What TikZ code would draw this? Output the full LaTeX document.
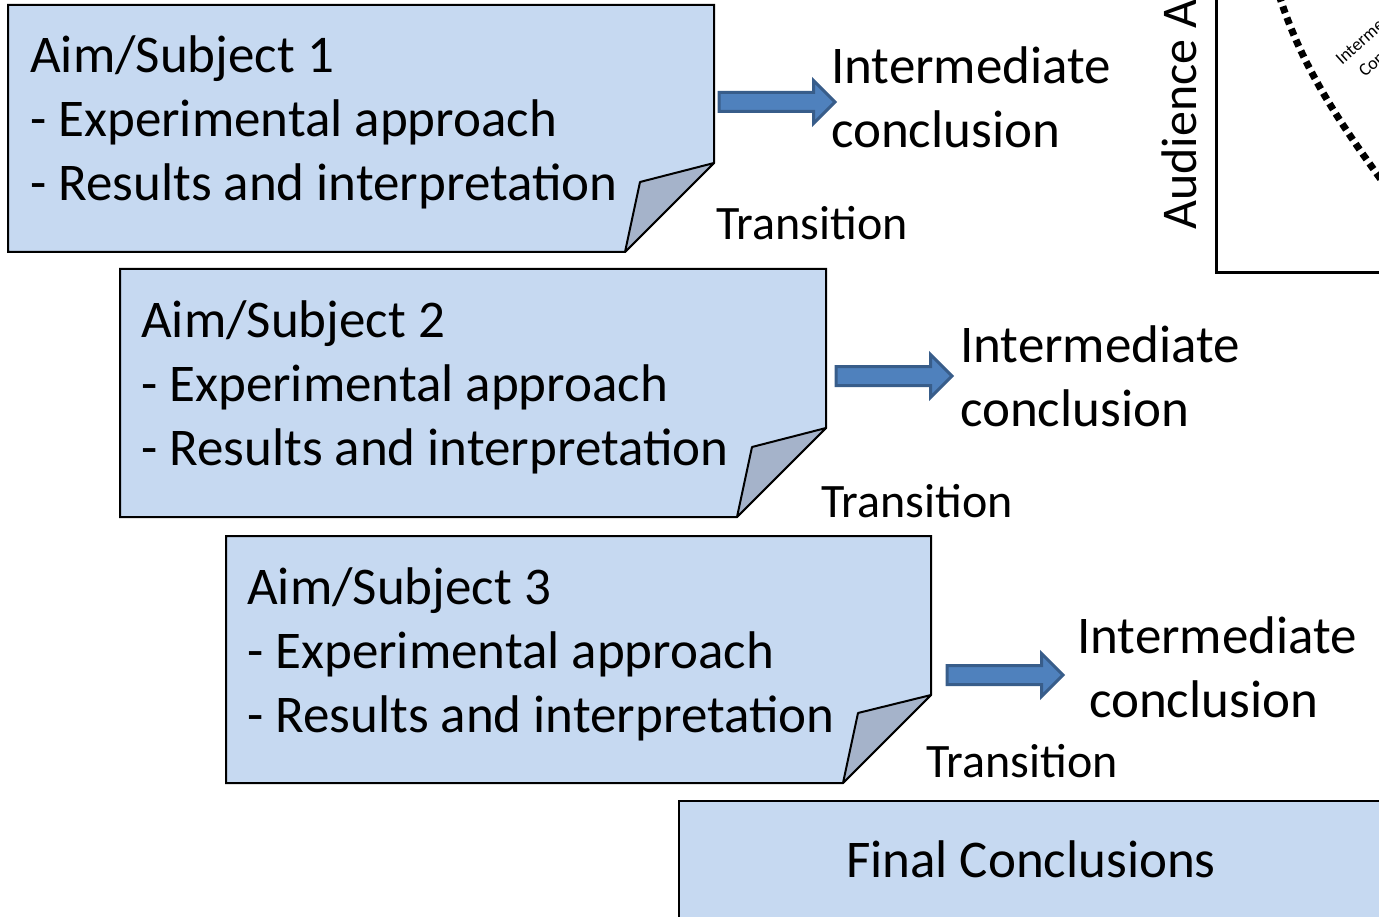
\documentclass[tikz,border=0pt]{standalone}
\usepackage{fontspec}
\setmainfont{Carlito}
\usetikzlibrary{shapes.arrows}
\definecolor{boxblue}{HTML}{C6D9F1}
\definecolor{flapgray}{HTML}{A5B3CA}
\definecolor{arrowblue}{HTML}{4F81BD}
\definecolor{arrowline}{HTML}{385D8A}

\begin{document}
\begin{tikzpicture}[x=1pt,y=-1pt,
    note/.style={draw=black,fill=boxblue,line width=2pt},
    flap/.style={draw=black,fill=flapgray,line width=2pt,line join=round},
    bigtext/.style={font=\fontsize{53}{64}\selectfont,inner sep=0pt,align=left},
    smalltext/.style={font=\fontsize{48}{50}\selectfont,inner sep=0pt},
    blockarrow/.style={single arrow,fill=arrowblue,draw=arrowline,line width=3pt,
      inner sep=8pt,single arrow head extend=12pt,minimum height=116pt,outer sep=0pt}]
  \useasboundingbox (0,0) rectangle (1379,917);
  \clip (0,0) rectangle (1379,917);

  % graph in the corner
  \draw[line width=3pt] (1216,-5) -- (1216,273) -- (1390,273);
  \draw[line width=7pt,dash pattern=on 7pt off 5pt] (1279,-5) .. controls (1300,60) and (1330,110) .. (1385,185);
  \node[rotate=90,anchor=base west,inner sep=0pt,font=\fontsize{50}{60}\selectfont] (attn) at (1196,230) {Audience At};
  \node[rotate=42,anchor=base west,inner sep=0pt,font=\fontsize{18}{20}\selectfont] (curve1) at (1342,66) {Intermediate};
  \node[rotate=42,anchor=base west,inner sep=0pt,font=\fontsize{18}{20}\selectfont] (curve2) at (1365,78) {Conclusion};

  % subject 1
  \coordinate (n1) at (714,163);
  \coordinate (f1) at (640,182);
  \coordinate (b1) at (625,252);
  \draw[note] (8,5) -- (714,5) -- (n1) -- (b1) -- (8,252) -- cycle;
  \draw[flap] (n1) -- (f1) -- (b1) -- cycle;
  \node[bigtext,anchor=base west] (aim1) at (30,201) {Aim/Subject 1\\- Experimental approach\\- Results and interpretation};
  \node[blockarrow,anchor=west] (arr1) at (719,102) {};
  \node[bigtext,anchor=base west] (inter1) at (831,148) {Intermediate\\conclusion};
  \node[smalltext,anchor=base west] (trans1) at (716,240) {Transition};

  % subject 2
  \coordinate (n2) at (826,428);
  \coordinate (f2) at (752,447);
  \coordinate (b2) at (737,517);
  \draw[note] (120,269) -- (826,269) -- (n2) -- (b2) -- (120,517) -- cycle;
  \draw[flap] (n2) -- (f2) -- (b2) -- cycle;
  \node[bigtext,anchor=base west] (aim2) at (141,465) {Aim/Subject 2\\- Experimental approach\\- Results and interpretation};
  \node[blockarrow,anchor=west] (arr2) at (836,376) {};
  \node[bigtext,anchor=base west] (inter2) at (960,426) {Intermediate\\conclusion};
  \node[smalltext,anchor=base west] (trans2) at (821,517) {Transition};

  % subject 3
  \coordinate (n3) at (931,695);
  \coordinate (f3) at (858,713);
  \coordinate (b3) at (843,783);
  \draw[note] (226,536) -- (931,536) -- (n3) -- (b3) -- (226,783) -- cycle;
  \draw[flap] (n3) -- (f3) -- (b3) -- cycle;
  \node[bigtext,anchor=base west] (aim3) at (247,732) {Aim/Subject 3\\- Experimental approach\\- Results and interpretation};
  \node[blockarrow,anchor=west] (arr3) at (947,675) {};
  \node[bigtext,anchor=base west] (inter3) at (1077,717) {Intermediate\\\hspace{12pt}conclusion};
  \node[smalltext,anchor=base west] (trans3) at (926,777) {Transition};

  % last box
  \draw[note] (679,801) rectangle (1390,930);
  \node[bigtext,anchor=base] (final) at (1031,877) {Final Conclusions};
\end{tikzpicture}
\end{document}
